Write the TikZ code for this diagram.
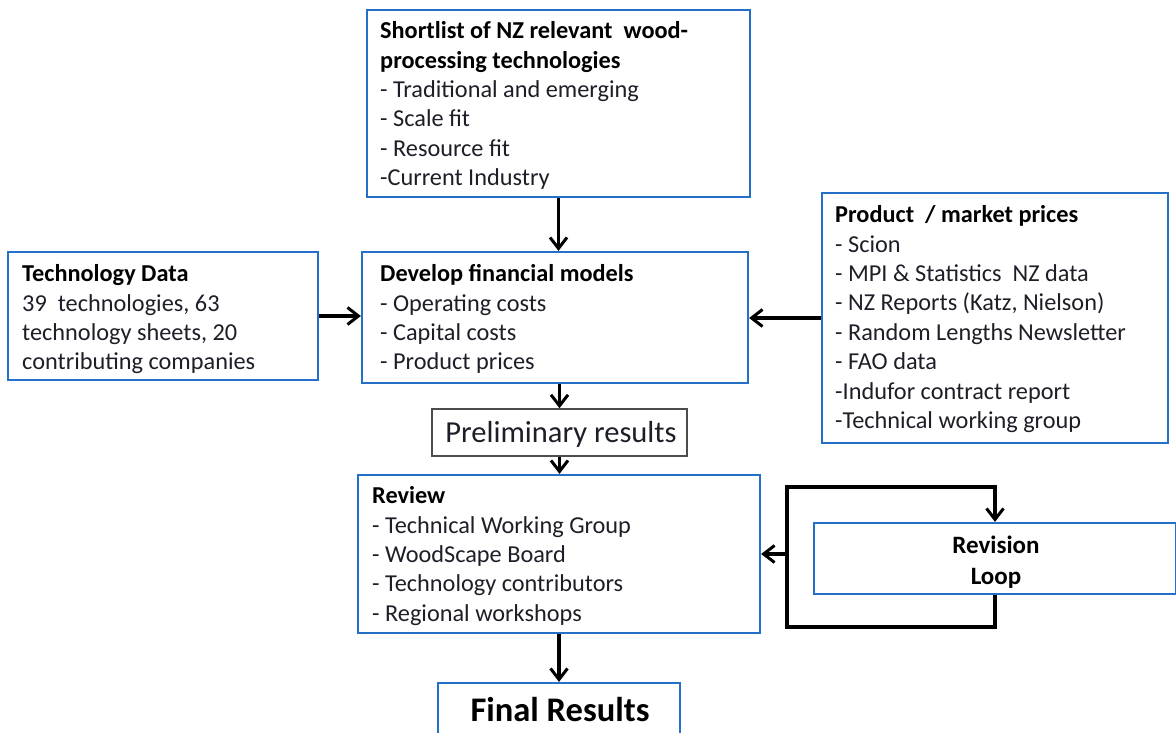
\documentclass[tikz,border=0pt]{standalone}
\usepackage{fontspec}
\setmainfont{Carlito}
\usetikzlibrary{arrows.meta,calc}
\definecolor{boxblue}{RGB}{36,112,200}
\definecolor{txt}{RGB}{30,30,40}
\tikzset{
  box/.style={draw=boxblue, line width=2.2pt, rectangle, inner sep=0pt},
  pbox/.style={draw=black!70, line width=1.5pt, rectangle, inner sep=0pt},
  txtnode/.style={anchor=north west, inner sep=0pt, align=left, text=txt,
     font=\fontsize{24.3}{29.4}\selectfont},
  arr/.style={line width=3.2pt, -{Straight Barb[length=11pt,width=17pt,line width=3pt]}},
}
\begin{document}
\begin{tikzpicture}[x=1pt,y=-1pt]
\useasboundingbox (0,0) rectangle (1176,733);
% boxes
\node[box, minimum width=383pt, minimum height=187pt] (short) at (558.5,103.5) {};
\node[box, minimum width=386pt, minimum height=131pt] (dev) at (555,317.5) {};
\node[box, minimum width=310pt, minimum height=128pt] (tech) at (163,316) {};
\node[box, minimum width=346pt, minimum height=250pt] (prod) at (995,318) {};
\node[pbox, minimum width=255pt, minimum height=47pt] (prelim) at (559.5,432.5) {};
\node[box, minimum width=402pt, minimum height=158pt] (review) at (559,554) {};
\node[box, minimum width=362pt, minimum height=71pt] (rev) at (995,558.5) {};
\node[box, minimum width=242pt, minimum height=62pt] (final) at (559,714) {};
% texts
\node[txtnode] (shortt) at (380,21.4) {\textbf{\color{black}Shortlist of NZ relevant\ \ wood-}\\\textbf{\color{black}processing technologies}\\- Traditional and emerging\\- Scale fit\\- Resource fit\\-Current Industry};
\node[txtnode] (devt) at (380,264.4) {\textbf{\color{black}Develop financial models}\\- Operating costs\\- Capital costs\\- Product prices};
\node[txtnode] (techt) at (22,264.4) {\textbf{\color{black}Technology Data}\\39\ \ technologies, 63\\technology sheets,\ 20\\contributing companies};
\node[txtnode] (prodt) at (835,205.4) {\textbf{\color{black}Product\ \ / market prices}\\- Scion\\- MPI \& Statistics\ \ NZ data\\- NZ Reports (Katz, Nielson)\\- Random Lengths Newsletter\\- FAO data\\-Indufor contract report\\-Technical working group};
\node[txtnode] (reviewt) at (372,486.4) {\textbf{\color{black}Review}\\- Technical Working Group\\- WoodScape Board\\- Technology contributors\\- Regional workshops};
\node[text=txt, font=\fontsize{30.5}{34}\selectfont, inner sep=0pt] (prelimt) at (561,434) {Preliminary results};
\node[text=black, font=\bfseries\fontsize{25}{30.5}\selectfont, align=center, inner sep=0pt] (revt) at (996,562) {Revision\\Loop};
\node[text=black, font=\bfseries\fontsize{34.5}{40}\selectfont, inner sep=0pt] (finalt) at (560,710) {Final Results};
% connectors
\draw[arr] (short.south) -- (short.south |- dev.north);
\draw[arr] (tech.east) -- (tech.east -| dev.west);
\draw[arr] (prod.west) -- (prod.west -| dev.east);
\draw[arr] (prelim.north |- dev.south) -- (prelim.north);
\draw[arr] (prelim.south) -- (prelim.south |- review.north);
\draw[arr] (review.south) -- (review.south |- final.north);
\coordinate (lb) at (787,627);
\coordinate (lt) at (787,487);
\draw[arr, line join=miter] (rev.south) |- (lb) -- (lt) -| (rev.north);
\draw[arr] (lt |- review.east) -- (review.east);
\end{tikzpicture}
\end{document}
